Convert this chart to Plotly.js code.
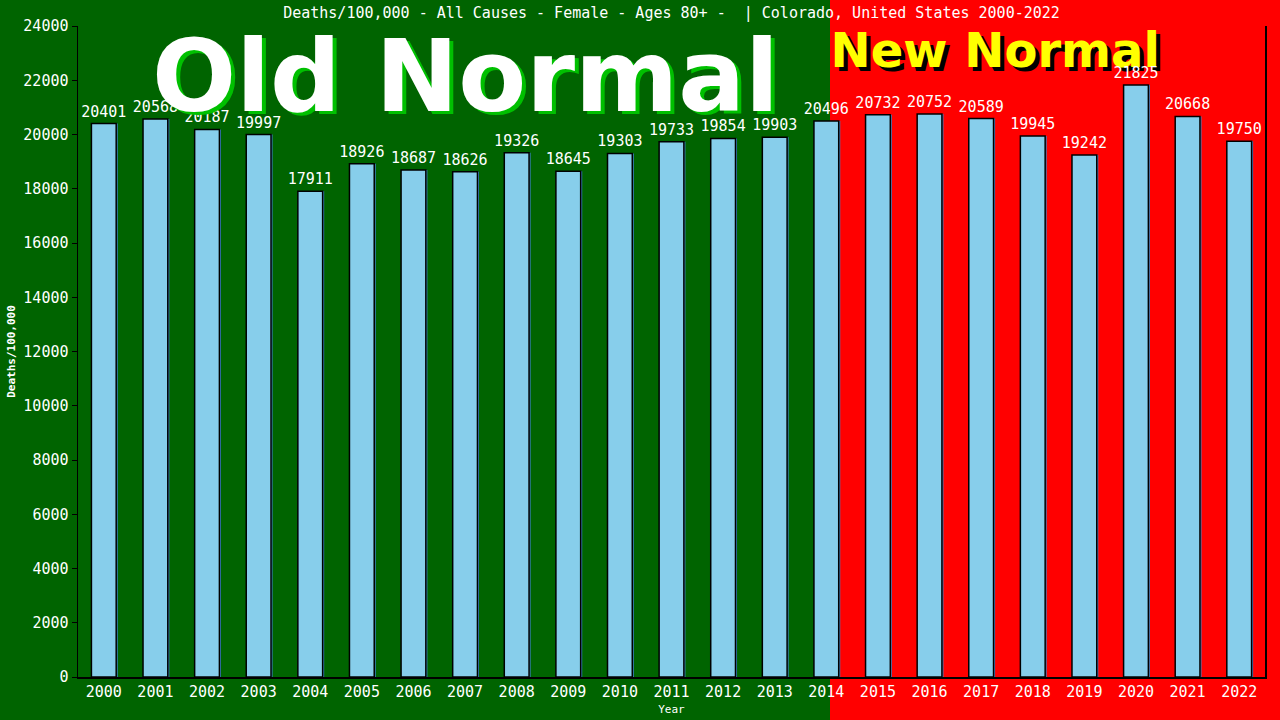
<!DOCTYPE html>
<html>
<head>
<meta charset="utf-8">
<script src="https://cdn.plot.ly/plotly-3.0.1.min.js"></script>
<style>
  html, body { margin: 0; padding: 0; background: #ff0000; }
  #chart { width: 1280px; height: 720px; }
</style>
</head>
<body>
<div id="chart"></div>
<script>
// Deaths/100,000 - all causes - female 80+ - Colorado
const years = ["2000", "2001", "2002", "2003", "2004", "2005", "2006", "2007",
  "2008", "2009", "2010", "2011", "2012", "2013", "2014", "2015", "2016",
  "2017", "2018", "2019", "2020", "2021", "2022"];
const deathRates = [20401, 20568, 20187, 19997, 17911, 18926, 18687, 18626,
  19326, 18645, 19303, 19733, 19854, 19903, 20496, 20732, 20752, 20589,
  19945, 19242, 21825, 20668, 19750];
const yTicks = [0, 2000, 4000, 6000, 8000, 10000, 12000, 14000, 16000,
  18000, 20000, 22000, 24000];

const MONO = "DejaVu Sans Mono, monospace";
const BOLD = "DejaVu Sans, Verdana, sans-serif";

// plot area in pixels: x 78..1265, y 26..677
const W = 1280, H = 720, L = 78, R = 15, T = 26, B = 43;
const pw = W - L - R, ph = H - T - B;
const px = (x) => (x - L) / pw;
const py = (y) => (H - B - y) / ph;

const shadow = {
  type: "bar",
  x: years,
  y: deathRates,
  width: 0.48,
  offset: -0.21,
  marker: { color: "#3a7fc0" },
  hoverinfo: "skip",
};

const bars = {
  type: "bar",
  x: years,
  y: deathRates,
  width: 0.48,
  offset: -0.24,
  text: deathRates.map(String),
  textposition: "outside",
  constraintext: "none",
  cliponaxis: false,
  textfont: { family: MONO, size: 15, color: "#ffffff" },
  marker: { color: "#87ceeb", line: { color: "#000000", width: 1.5 } },
};

// "Old Normal" sits above the bar labels
function bigText(text, x, y, size, color, dx, dy) {
  return {
    text, xref: "paper", yref: "paper", x: px(x + dx), y: py(y + dy),
    xanchor: "left", yanchor: "bottom", showarrow: false,
    font: { family: BOLD, size, color, weight: "bold" },
  };
}

// "New Normal" sits under the bars (the 2020 label is drawn over it)
function lowText(text, x, y, size, color, dx, dy) {
  return {
    type: "rect", xref: "paper", yref: "paper", layer: "below",
    x0: px(x + dx), x1: px(x + dx + 1), y0: py(y + dy), y1: py(y + dy + 1),
    line: { width: 0 }, fillcolor: "rgba(0,0,0,0)",
    label: {
      text: "<b>" + text + "</b>", textposition: "middle center",
      xanchor: "left", yanchor: "bottom", padding: 0,
      font: { family: BOLD, size, color },
    },
  };
}

const layout = {
  width: W,
  height: H,
  margin: { l: L, r: R, t: T, b: B },
  paper_bgcolor: "#ff0000",
  plot_bgcolor: "rgba(0,0,0,0)",
  barmode: "overlay",
  showlegend: false,
  title: {
    text: "Deaths/100,000 - All Causes - Female - Ages 80+ -  | Colorado, United States 2000-2022",
    font: { family: MONO, size: 15, color: "#ffffff" },
    x: 0.5, xref: "paper", y: 0.982, yanchor: "middle",
  },
  xaxis: {
    type: "category",
    range: [-0.5, 22.5],
    showline: true, linecolor: "#000000", linewidth: 1.5,
    ticks: "", showgrid: false, zeroline: false,
    tickfont: { family: MONO, size: 15, color: "#ffffff" },
    title: { text: "Year", font: { family: MONO, size: 11, color: "#ffffff" }, standoff: 6 },
  },
  yaxis: {
    range: [0, 24000],
    tickvals: yTicks,
    ticktext: yTicks.map(String),
    showline: true, mirror: true, linecolor: "#000000", linewidth: 1.5,
    ticks: "outside", ticklen: 5, tickcolor: "#000000",
    showgrid: false, zeroline: false,
    tickfont: { family: MONO, size: 15, color: "#ffffff" },
    title: { text: "Deaths/100,000", font: { family: MONO, size: 11, color: "#ffffff", weight: "bold" }, standoff: 5 },
  },
  shapes: [
    {
      type: "rect", xref: "paper", yref: "paper", layer: "below",
      x0: px(0), x1: px(830), y0: py(H), y1: py(0),
      fillcolor: "#006400", line: { width: 0 },
    },
    lowText("New Normal", 830, 74, 48, "#000000", 4, 4),
    lowText("New Normal", 830, 74, 48, "#ffff00", 0, 0),
  ],
  annotations: [
    bigText("Old Normal", 150, 136, 99, "#00c000", 4, 3),
    bigText("Old Normal", 150, 136, 99, "#ffffff", 0, 0),
  ],
};

Plotly.newPlot("chart", [shadow, bars], layout, { displayModeBar: false, staticPlot: true });
</script>
</body>
</html>
